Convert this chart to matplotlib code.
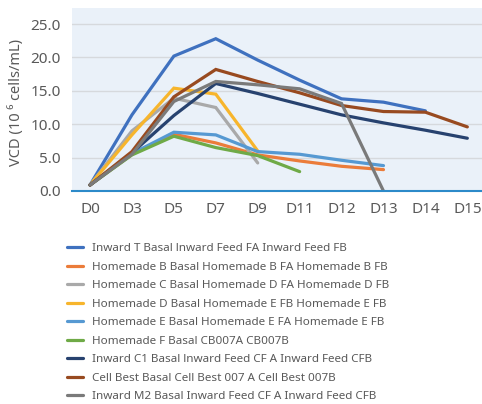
import matplotlib
matplotlib.use("Agg")
import matplotlib.pyplot as plt
import numpy as np

days = ["D0", "D3", "D5", "D7", "D9", "D11", "D12", "D13", "D14", "D15"]

series_names = [
    "Inward T Basal lnward Feed FA Inward Feed FB",
    "Homemade B Basal Homemade B FA Homemade B FB",
    "Homemade C Basal Homemade D FA Homemade D FB",
    "Homemade D Basal Homemade E FB Homemade E FB",
    "Homemade E Basal Homemade E FA Homemade E FB",
    "Homemade F Basal CB007A CB007B",
    "Inward C1 Basal lnward Feed CF A Inward Feed CFB",
    "Cell Best Basal Cell Best 007 A Cell Best 007B",
    "Inward M2 Basal Inward Feed CF A Inward Feed CFB",
]

inward_t   = [0.9, 11.4, 20.2, 22.8, 19.6, 16.6, 13.8, 13.3, 12.0, None]
homemade_b = [0.9, 5.5, 8.5, 7.2, 5.4, 4.5, 3.7, 3.2, None, None]
homemade_c = [0.9, 9.0, 13.9, 12.5, 4.2, None, None, None, None, None]
homemade_d = [0.9, 8.4, 15.4, 14.5, 6.0, None, None, None, None, None]
homemade_e = [0.9, 5.6, 8.8, 8.4, 5.9, 5.5, 4.6, 3.8, None, None]
homemade_f = [0.9, 5.4, 8.2, 6.5, 5.3, 2.9, None, None, None, None]
inward_c1  = [0.9, 5.7, 11.3, 16.1, 14.6, 13.0, 11.4, 10.2, 9.1, 7.9]
cell_best  = [0.9, 5.9, 14.1, 18.2, 16.4, 14.7, 12.8, 11.9, 11.8, 9.6]
inward_m2  = [0.9, 5.5, 13.4, 16.4, 15.9, 15.3, 13.1, 0.0, None, None]

all_series = [inward_t, homemade_b, homemade_c, homemade_d, homemade_e,
              homemade_f, inward_c1, cell_best, inward_m2]
colors = ["#3F71BF", "#EB7C3A", "#A9A9A9", "#F7B52C", "#5699D2",
          "#6FAA47", "#27426F", "#984A20", "#7A7A7A"]

y_ticks = [0, 5, 10, 15, 20, 25]

plt.rcParams['font.family'] = ['Noto Sans', 'DejaVu Sans']
text_color = "#595959"

fig = plt.figure(figsize=(4.82, 4.04), dpi=100)
ax = fig.add_axes([72/482, 1 - 191/404, 1 - 72/482, (191 - 8)/404])
ax.set_facecolor("#EAF1F9")

x = np.arange(len(days))
for vals, c, name in zip(all_series, colors, series_names):
    y = np.array([np.nan if v is None else v for v in vals], dtype=float)
    ax.plot(x, y, color=c, lw=2.3, label=name, solid_capstyle='round',
            solid_joinstyle='miter', zorder=3)

ax.set_xlim(-0.43, 9.35)
ax.set_ylim(0, 27.4)
ax.set_xticks(x)
ax.set_xticklabels(days)
ax.set_yticks(y_ticks)
ax.set_yticklabels([f"{v:.1f}" for v in y_ticks])
ax.tick_params(axis='both', length=0, colors=text_color, labelsize=11)
ax.tick_params(axis='x', pad=8)
ax.tick_params(axis='y', pad=8)
ax.grid(axis='y', color="#D6D9DD", lw=1.0, zorder=0)
ax.set_axisbelow(True)
for s in ["top", "right", "left"]:
    ax.spines[s].set_visible(False)
ax.spines["bottom"].set_color("#2C8AC9")
ax.spines["bottom"].set_linewidth(1.5)
ax.spines["bottom"].set_zorder(4)

fig.text(16/482, 1 - 103/404, "VCD (10 \u2076 cells/mL)", rotation=90,
         ha='center', va='center', color=text_color, fontsize=10.5)

handles, labels = ax.get_legend_handles_labels()
leg = fig.legend(handles, labels, loc='upper left',
                 bbox_to_anchor=(67/482, 1 - 243/404),
                 frameon=False, fontsize=8.4, handlelength=1.35,
                 handletextpad=0.8, labelspacing=0.63, borderaxespad=0,
                 borderpad=0)
for t in leg.get_texts():
    t.set_color(text_color)
for l in leg.get_lines():
    l.set_linewidth(2.3)

fig.savefig("out.png", dpi=100)
